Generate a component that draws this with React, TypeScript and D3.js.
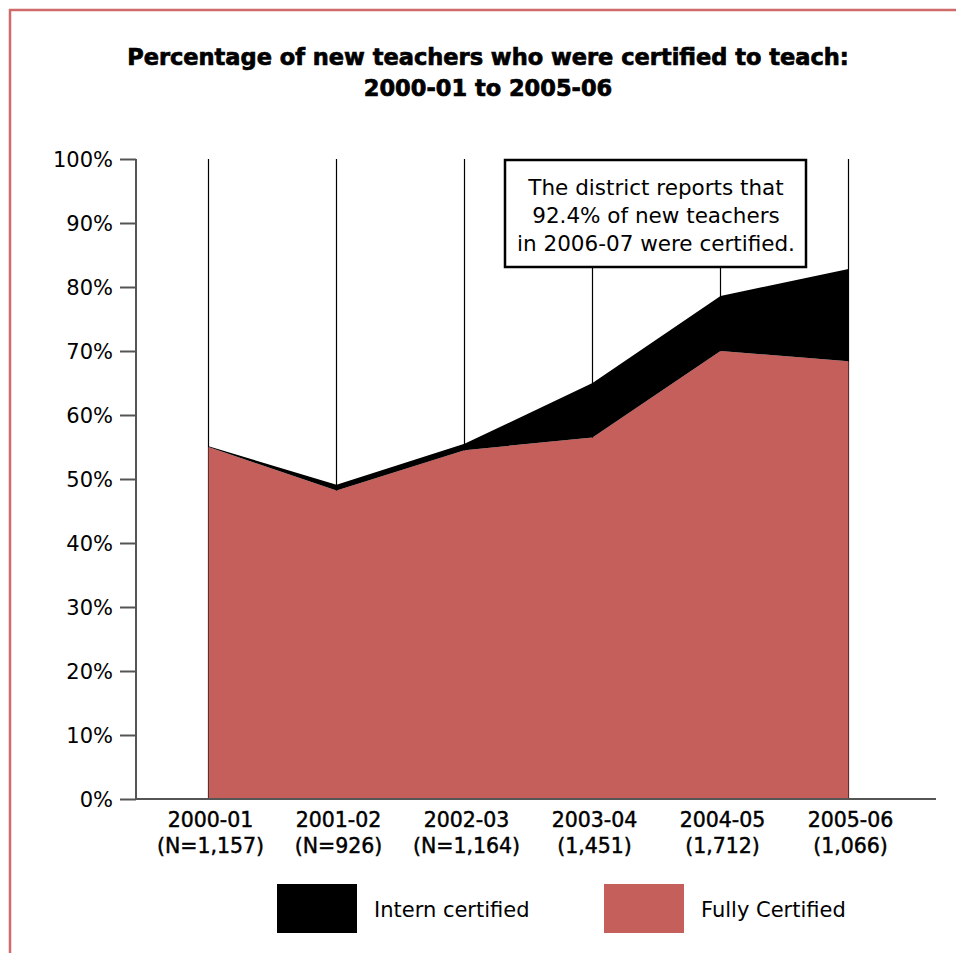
import React, { useEffect, useRef } from 'react';
import * as d3 from 'd3';

// school years and sample sizes
const years = ['2000-01', '2001-02', '2002-03', '2003-04', '2004-05', '2005-06'];
const counts = ['(N=1,157)', '(N=926)', '(N=1,164)', '(1,451)', '(1,712)', '(1,066)'];

// percentage of new teachers
const fullyCertified = [55.0, 48.2, 54.5, 56.5, 70.0, 68.4];
const internCertified = [0.1, 0.9, 1.0, 8.5, 8.6, 14.4];

const yTicks = [0, 10, 20, 30, 40, 50, 60, 70, 80, 90, 100];

const titleLines = [
  'Percentage of new teachers who were certified to teach:',
  '2000-01 to 2005-06',
];
const noteLines = [
  'The district reports that',
  '92.4% of new teachers',
  'in 2006-07 were certified.',
];

const PINK = '#c55f5b';
const FONT = '"DejaVu Sans", sans-serif';

const App: React.FC = () => {
  const svgRef = useRef<SVGSVGElement>(null);

  useEffect(() => {
    if (!svgRef.current) return;
    const svg = d3.select(svgRef.current);
    svg.selectAll('*').remove();

    const W = 956;
    const H = 953;

    // frame lines (left and top)
    svg.append('line')
      .attr('x1', 10).attr('x2', 10).attr('y1', 9).attr('y2', H)
      .attr('stroke', '#cf6b6b').attr('stroke-width', 2.5);
    svg.append('line')
      .attr('x1', 9).attr('x2', W).attr('y1', 10).attr('y2', 10)
      .attr('stroke', '#cf6b6b').attr('stroke-width', 2.5);

    // title
    svg.append('g')
      .selectAll('text')
      .data(titleLines)
      .enter()
      .append('text')
      .attr('x', 488)
      .attr('y', (_, i) => 65 + i * 31)
      .attr('text-anchor', 'middle')
      .style('font-family', FONT)
      .style('font-weight', 'bold')
      .style('font-size', '22.5px')
      .attr('stroke', '#000')
      .attr('stroke-width', 0.7)
      .text(d => d);

    const xScale = d3.scalePoint<string>()
      .domain(years)
      .range([208.5, 848.5]);

    const yScale = d3.scaleLinear()
      .domain([0, 100])
      .range([799, 159]);

    // vertical year lines (behind areas)
    svg.append('g')
      .selectAll('line')
      .data(years)
      .enter()
      .append('line')
      .attr('x1', d => xScale(d)!)
      .attr('x2', d => xScale(d)!)
      .attr('y1', yScale(100))
      .attr('y2', yScale(0))
      .attr('stroke', '#000')
      .attr('stroke-width', 1.2);

    // stacked areas
    const rows = years.map((y, i) => ({ year: y, fully: fullyCertified[i], intern: internCertified[i] }));
    const stack = d3.stack<any>().keys(['fully', 'intern']);
    const series = stack(rows);
    const colors: Record<string, string> = { fully: PINK, intern: '#000' };

    const area = d3.area<any>()
      .x(d => xScale(d.data.year)!)
      .y0(d => yScale(d[0]))
      .y1(d => yScale(d[1]));

    svg.append('g')
      .selectAll('path')
      .data(series)
      .enter()
      .append('path')
      .attr('d', d => area(d as any) || '')
      .attr('fill', d => colors[d.key]);

    // y axis
    const yAxis = d3.axisLeft(yScale)
      .tickValues(yTicks)
      .tickSize(16)
      .tickPadding(7)
      .tickFormat(d => `${d}%`);

    const yg = svg.append('g')
      .attr('transform', 'translate(136,0)')
      .call(yAxis);
    yg.select('.domain').attr('stroke', '#555').attr('stroke-width', 2).attr('d', 'M0,159V799');
    yg.selectAll('.tick line').attr('stroke', '#555').attr('stroke-width', 2);
    yg.selectAll('.tick text')
      .attr('fill', '#000')
      .attr('dy', '0.36em')
      .style('font-family', FONT)
      .style('font-size', '21px');

    // x axis baseline
    svg.append('line')
      .attr('x1', 136).attr('x2', 936)
      .attr('y1', yScale(0)).attr('y2', yScale(0))
      .attr('stroke', '#555').attr('stroke-width', 2);

    // x labels
    const xl = svg.append('g')
      .selectAll('text')
      .data(years)
      .enter()
      .append('text')
      .attr('text-anchor', 'middle')
      .attr('stroke', '#000')
      .attr('stroke-width', 0.45)
      .style('font-family', FONT)
      .style('font-size', '20.5px');
    xl.append('tspan')
      .attr('x', d => xScale(d)! + 2)
      .attr('y', 827)
      .text(d => d);
    xl.append('tspan')
      .attr('x', d => xScale(d)! + 2)
      .attr('y', 853)
      .text((_, i) => counts[i]);

    // annotation box
    svg.append('rect')
      .attr('x', 505).attr('y', 160)
      .attr('width', 301).attr('height', 107)
      .attr('fill', '#fff')
      .attr('stroke', '#000')
      .attr('stroke-width', 2.5);

    svg.append('g')
      .selectAll('text')
      .data(noteLines)
      .enter()
      .append('text')
      .attr('x', 656)
      .attr('y', (_, i) => 195 + i * 28)
      .attr('text-anchor', 'middle')
      .style('font-family', FONT)
      .style('font-size', '21.5px')
      .text(d => d);

    // legend
    const legendItems = [
      { label: 'Intern certified', color: '#000', x: 277 },
      { label: 'Fully Certified', color: PINK, x: 604 },
    ];
    const lg = svg.append('g')
      .selectAll('g')
      .data(legendItems)
      .enter()
      .append('g')
      .attr('transform', d => `translate(${d.x},884)`);
    lg.append('rect')
      .attr('width', 80)
      .attr('height', 49)
      .attr('fill', d => d.color);
    lg.append('text')
      .attr('x', 97)
      .attr('y', 33)
      .style('font-family', FONT)
      .style('font-size', '21px')
      .text(d => d.label);
  }, []);

  return (
    <div style={{ position: 'absolute', left: 0, top: 0 }}>
      <svg ref={svgRef} width={956} height={953} style={{ display: 'block' }} />
    </div>
  );
};

export default App;
